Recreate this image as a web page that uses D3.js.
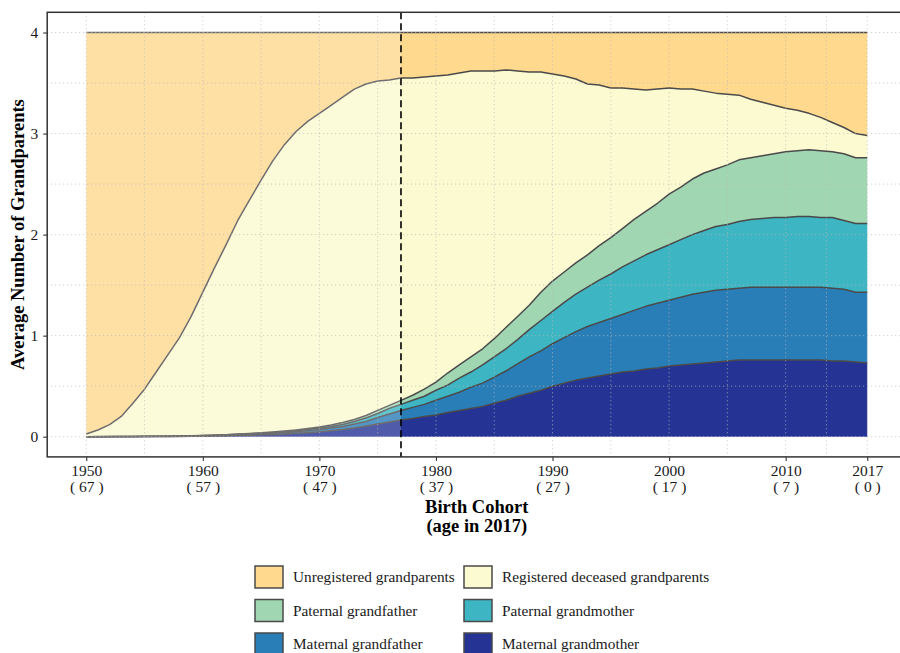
<!DOCTYPE html>
<html>
<head>
<meta charset="utf-8">
<script src="https://cdn.jsdelivr.net/npm/d3@7/dist/d3.min.js"></script>
<style>
  html, body { margin: 0; padding: 0; background: #fff; }
  svg { display: block; }
  text { font-family: "Liberation Serif", "Times New Roman", serif; }
</style>
</head>
<body>
<svg id="chart" width="900" height="653"></svg>
<script>
// Birth cohorts 1950..2017
const years = d3.range(1950, 2018);

// Average number of grandparents per cohort, by status (stacked bottom to top)
const maternalGrandmother = [
  0, 0, 0, 0, 0, 0.001, 0.001, 0.002, 0.003, 0.004,
  0.005, 0.007, 0.009, 0.012, 0.015, 0.018, 0.022, 0.027, 0.033, 0.040,
  0.048, 0.058, 0.070, 0.085, 0.105, 0.125, 0.145, 0.165, 0.180, 0.200,
  0.215, 0.240, 0.260, 0.280, 0.300, 0.330, 0.360, 0.400, 0.430, 0.460,
  0.500, 0.530, 0.560, 0.580, 0.600, 0.620, 0.640, 0.650, 0.670, 0.680,
  0.700, 0.710, 0.720, 0.730, 0.740, 0.750, 0.760, 0.760, 0.760, 0.760,
  0.760, 0.760, 0.760, 0.760, 0.750, 0.750, 0.740, 0.730
];
const maternalGrandfather = [
  0, 0, 0, 0.001, 0.001, 0.001, 0.001, 0.001, 0.001, 0.002,
  0.003, 0.003, 0.004, 0.005, 0.007, 0.010, 0.012, 0.015, 0.017, 0.020,
  0.024, 0.028, 0.030, 0.040, 0.045, 0.065, 0.080, 0.095, 0.110, 0.120,
  0.145, 0.160, 0.180, 0.210, 0.230, 0.260, 0.290, 0.320, 0.360, 0.390,
  0.420, 0.450, 0.480, 0.510, 0.530, 0.550, 0.570, 0.600, 0.620, 0.640,
  0.650, 0.670, 0.690, 0.700, 0.710, 0.710, 0.710, 0.720, 0.720, 0.720,
  0.720, 0.720, 0.720, 0.720, 0.720, 0.710, 0.690, 0.700
];
const paternalGrandmother = [
  0, 0, 0.001, 0, 0.001, 0.001, 0.002, 0.002, 0.002, 0.002,
  0.003, 0.004, 0.005, 0.006, 0.007, 0.007, 0.008, 0.008, 0.010, 0.012,
  0.013, 0.014, 0.020, 0.025, 0.035, 0.040, 0.055, 0.060, 0.070, 0.080,
  0.100, 0.110, 0.140, 0.150, 0.180, 0.200, 0.220, 0.240, 0.270, 0.300,
  0.320, 0.350, 0.370, 0.390, 0.420, 0.440, 0.470, 0.490, 0.510, 0.530,
  0.550, 0.570, 0.590, 0.610, 0.630, 0.640, 0.660, 0.670, 0.680, 0.690,
  0.690, 0.700, 0.700, 0.690, 0.700, 0.680, 0.680, 0.680
];
const paternalGrandfather = [
  0, 0.001, 0, 0.001, 0.001, 0.001, 0.001, 0.001, 0.002, 0.002,
  0.002, 0.002, 0.002, 0.003, 0.003, 0.004, 0.005, 0.006, 0.007, 0.008,
  0.010, 0.015, 0.020, 0.020, 0.025, 0.030, 0.030, 0.040, 0.050, 0.070,
  0.080, 0.120, 0.130, 0.150, 0.160, 0.180, 0.210, 0.230, 0.240, 0.280,
  0.300, 0.300, 0.310, 0.320, 0.340, 0.360, 0.380, 0.410, 0.430, 0.460,
  0.500, 0.520, 0.550, 0.570, 0.570, 0.590, 0.610, 0.610, 0.620, 0.630,
  0.650, 0.650, 0.660, 0.660, 0.650, 0.660, 0.650, 0.650
];
const registeredDeceased = [
  0.027, 0.065, 0.119, 0.198, 0.327, 0.466, 0.635, 0.804, 0.972, 1.180,
  1.417, 1.654, 1.880, 2.114, 2.308, 2.501, 2.683, 2.834, 2.953, 3.040,
  3.105, 3.165, 3.220, 3.270, 3.280, 3.260, 3.220, 3.190, 3.140, 3.090,
  3.030, 2.950, 2.890, 2.830, 2.750, 2.650, 2.550, 2.430, 2.310, 2.180,
  2.050, 1.940, 1.820, 1.690, 1.590, 1.480, 1.390, 1.290, 1.200, 1.130,
  1.050, 0.970, 0.890, 0.810, 0.750, 0.700, 0.640, 0.580, 0.530, 0.480,
  0.430, 0.400, 0.360, 0.330, 0.290, 0.260, 0.240, 0.220
];
const unregistered = [
  3.973, 3.934, 3.880, 3.800, 3.670, 3.530, 3.360, 3.190, 3.020, 2.810,
  2.570, 2.330, 2.100, 1.860, 1.660, 1.460, 1.270, 1.110, 0.980, 0.880,
  0.800, 0.720, 0.640, 0.560, 0.510, 0.480, 0.470, 0.450, 0.450, 0.440,
  0.430, 0.420, 0.400, 0.380, 0.380, 0.380, 0.370, 0.380, 0.390, 0.390,
  0.410, 0.430, 0.460, 0.510, 0.520, 0.550, 0.550, 0.560, 0.570, 0.560,
  0.550, 0.560, 0.560, 0.580, 0.600, 0.610, 0.620, 0.660, 0.690, 0.720,
  0.750, 0.770, 0.800, 0.840, 0.890, 0.940, 1.000, 1.020
];

const seriesKeys = ["mgm", "mgf", "pgm", "pgf", "reg", "unreg"];
const seriesValues = {
  mgm: maternalGrandmother, mgf: maternalGrandfather,
  pgm: paternalGrandmother, pgf: paternalGrandfather,
  reg: registeredDeceased, unreg: unregistered
};
const seriesLabels = {
  unreg: "Unregistered grandparents", reg: "Registered deceased grandparents",
  pgf: "Paternal grandfather", pgm: "Paternal grandmother",
  mgf: "Maternal grandfather", mgm: "Maternal grandmother"
};
const seriesColors = {
  unreg: "#fed98e", reg: "#fcfad0", pgf: "#a1d6b2",
  pgm: "#3db5c2", mgf: "#2a7eb8", mgm: "#253494"
};

// Axis ticks
const xTicks = [1950, 1960, 1970, 1980, 1990, 2000, 2010, 2017];
const xMinor = [1955, 1965, 1975, 1985, 1995, 2005, 2013.5];
const yTicks = [0, 1, 2, 3, 4];
const yMinor = [0.5, 1.5, 2.5, 3.5];
const lastYear = 2017;
const markerYear = 1977;

const table = years.map((yr, i) => {
  const row = { year: yr };
  seriesKeys.forEach(k => row[k] = seriesValues[k][i]);
  return row;
});

const svg = d3.select("#chart");

const panel = { left: 47.2, right: 906.3, top: 12.3, bottom: 456.9 };
const xPad = (lastYear - 1950) * 0.05;
const x = d3.scaleLinear().domain([1950 - xPad, lastYear + xPad]).range([panel.left, panel.right]);
const y = d3.scaleLinear().domain([-0.2, 4.2]).range([panel.bottom, panel.top]);

const stacked = d3.stack().keys(seriesKeys)(table);

svg.append("defs").append("clipPath").attr("id", "panelClip")
  .append("rect").attr("x", panel.left).attr("y", panel.top)
  .attr("width", panel.right - panel.left).attr("height", panel.bottom - panel.top);

const plot = svg.append("g").attr("clip-path", "url(#panelClip)");

const area = d3.area()
  .x(d => x(d.data.year)).y0(d => y(d[0])).y1(d => y(d[1]));
const upper = d3.line()
  .x(d => x(d.data.year)).y(d => y(d[1]));

plot.selectAll("path.layer").data(stacked).join("path")
  .attr("class", "layer")
  .attr("d", area)
  .attr("fill", d => seriesColors[d.key]);

plot.selectAll("path.edge").data(stacked).join("path")
  .attr("class", "edge")
  .attr("d", upper)
  .attr("fill", "none")
  .attr("stroke", "#4a4a4a")
  .attr("stroke-width", 1.5)
  .attr("stroke-linejoin", "round");

// Faded band for cohorts before the marker year
plot.append("rect")
  .attr("x", panel.left).attr("y", panel.top)
  .attr("width", x(markerYear) - panel.left)
  .attr("height", panel.bottom - panel.top)
  .attr("fill", "#fff").attr("opacity", 0.2);

// Dotted grid drawn over the areas
const grid = plot.append("g").attr("fill", "none").attr("stroke", "#b9b9b9")
  .attr("stroke-width", 0.8).attr("stroke-dasharray", "1,3");
grid.selectAll("line.gx").data(xTicks.concat(xMinor)).join("line")
  .attr("x1", d => x(d)).attr("x2", d => x(d))
  .attr("y1", panel.top).attr("y2", panel.bottom);
grid.selectAll("line.gy").data(yTicks.concat(yMinor)).join("line")
  .attr("y1", d => y(d)).attr("y2", d => y(d))
  .attr("x1", panel.left).attr("x2", panel.right);

// Vertical dashed marker
plot.append("line")
  .attr("x1", x(markerYear)).attr("x2", x(markerYear))
  .attr("y1", panel.top).attr("y2", panel.bottom)
  .attr("stroke", "#000").attr("stroke-width", 1.6)
  .attr("stroke-dasharray", "7,4");

// Panel border
svg.append("rect")
  .attr("x", panel.left).attr("y", panel.top)
  .attr("width", panel.right - panel.left).attr("height", panel.bottom - panel.top)
  .attr("fill", "none").attr("stroke", "#333").attr("stroke-width", 1.5);

// Axes
const yAxis = svg.append("g").attr("transform", `translate(${panel.left},0)`)
  .call(d3.axisLeft(y).tickValues(yTicks).tickSize(4).tickPadding(5).tickFormat(d3.format("d")));
const xAxis = svg.append("g").attr("transform", `translate(0,${panel.bottom})`)
  .call(d3.axisBottom(x).tickValues(xTicks).tickSize(4).tickPadding(4).tickFormat(d => String(d)));

[yAxis, xAxis].forEach(g => {
  g.select(".domain").remove();
  g.selectAll(".tick line").attr("stroke", "#333").attr("stroke-width", 1.1);
  g.selectAll(".tick text").attr("fill", "#1a1a1a").style("font-size", "15.5px")
    .style("font-family", "'Liberation Serif', serif");
});

// Second line under each cohort: age in the final year
xAxis.selectAll(".tick").append("text")
  .attr("y", 35.5).attr("fill", "#1a1a1a").attr("text-anchor", "middle")
  .style("font-size", "15.5px").style("font-family", "'Liberation Serif', serif")
  .text(d => `( ${lastYear - d} )`);

// Axis titles
svg.append("text")
  .attr("transform", `translate(23.5,${(panel.top + panel.bottom) / 2}) rotate(-90)`)
  .attr("text-anchor", "middle").attr("font-weight", "bold").style("font-size", "18.5px")
  .attr("fill", "#000")
  .text("Average Number of Grandparents");

const xTitleX = (x(1950) + x(lastYear)) / 2;
svg.append("text").attr("x", xTitleX).attr("y", 513)
  .attr("text-anchor", "middle").attr("font-weight", "bold").style("font-size", "18.5px")
  .text("Birth Cohort");
svg.append("text").attr("x", xTitleX).attr("y", 531.5)
  .attr("text-anchor", "middle").attr("font-weight", "bold").style("font-size", "18.5px")
  .text("(age in 2017)");

// Legend: two columns, three rows
const legendOrder = ["unreg", "reg", "pgf", "pgm", "mgf", "mgm"];
const legendCols = [255, 464];
const legendRows = [566, 599.5, 633];
const legend = svg.append("g");
legendOrder.forEach((k, i) => {
  const lx = legendCols[i % 2], ly = legendRows[Math.floor(i / 2)];
  legend.append("rect").attr("x", lx).attr("y", ly).attr("width", 28).attr("height", 22)
    .attr("fill", seriesColors[k]).attr("stroke", "#4a4a4a").attr("stroke-width", 1.5);
  legend.append("text").attr("x", lx + 38).attr("y", ly + 11).attr("dy", "0.35em")
    .style("font-size", "15.3px").attr("fill", "#1a1a1a").text(seriesLabels[k]);
});
</script>
</body>
</html>
